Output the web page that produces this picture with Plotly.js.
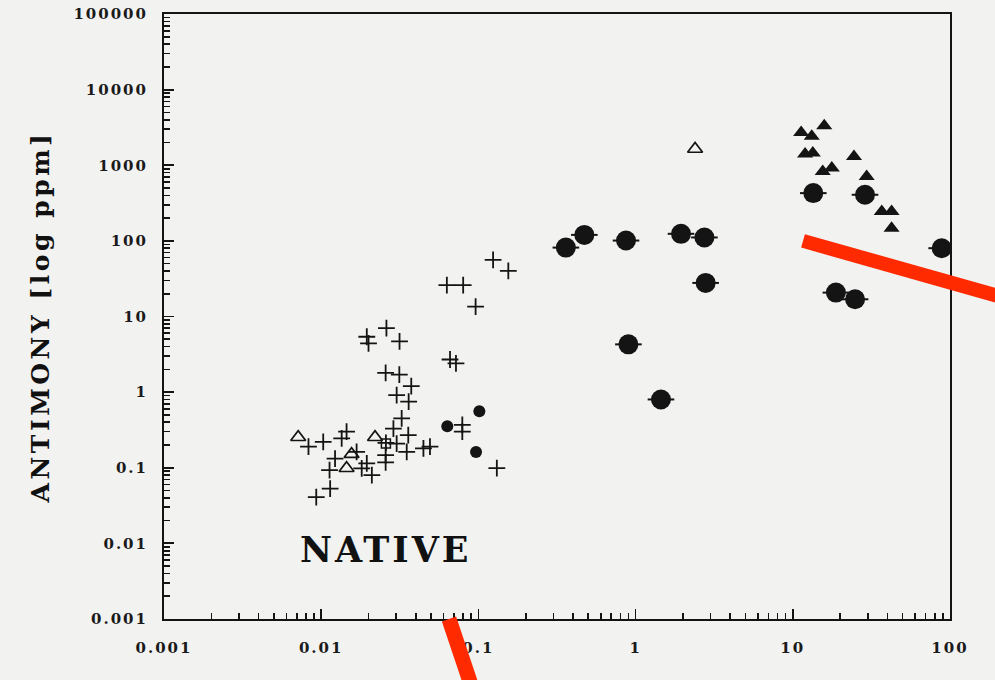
<!DOCTYPE html>
<html>
<head>
<meta charset="utf-8">
<script src="https://cdn.plot.ly/plotly-3.0.1.min.js"></script>
<style>
  html, body { margin: 0; padding: 0; background: #f2f2f1; }
  #chart { width: 995px; height: 680px; }
  .xtick text, .ytick text { letter-spacing: 2px; }
  .g-ytitle text { letter-spacing: 3.5px; }
  .annotation-text { letter-spacing: 3px; }
</style>
</head>
<body>
<div id="chart"></div>
<script>
// ---- data ----
const xTickVals = [0.001, 0.01, 0.1, 1, 10, 100];
const xTickText = ["0.001", "0.01", "0.1", "1", "10", "100"];
const yTickVals = [0.001, 0.01, 0.1, 1, 10, 100, 1000, 10000, 100000];
const yTickText = ["0.001", "0.01", "0.1", "1", "10", "100", "1000", "10000", "100000"];

// crosses (+)
const crossX = [0.124, 0.155, 0.063, 0.080, 0.096, 0.026, 0.0195, 0.020, 0.0315, 0.066, 0.072,
  0.0257, 0.0314, 0.0374, 0.0302, 0.036, 0.0325, 0.0288, 0.0358, 0.079, 0.079, 0.131,
  0.0447, 0.0492, 0.0083, 0.0103, 0.0135, 0.0145, 0.01225, 0.0113, 0.0093, 0.0114,
  0.0168, 0.0195, 0.0181, 0.021, 0.0258, 0.0257, 0.0257, 0.0302, 0.035];
const crossY = [56, 40, 26, 26, 13.5, 7.0, 5.4, 4.4, 4.7, 2.7, 2.4,
  1.8, 1.7, 1.2, 0.91, 0.75, 0.45, 0.33, 0.27, 0.37, 0.30, 0.099,
  0.18, 0.19, 0.19, 0.22, 0.244, 0.30, 0.132, 0.093, 0.041, 0.053,
  0.162, 0.114, 0.098, 0.080, 0.213, 0.147, 0.118, 0.209, 0.162];

// open triangles
const openTriX = [0.00714, 0.022, 0.0156, 0.0145, 2.39];
const openTriY = [0.253, 0.253, 0.151, 0.0985, 1640];

// open square
const openSqX = [0.0258];
const openSqY = [0.21];

// small filled circles
const smallDotX = [0.1014, 0.0634, 0.0966];
const smallDotY = [0.56, 0.355, 0.162];

// large filled circles
const bigDotX = [0.36, 0.472, 0.869, 1.945, 2.74, 2.79, 0.90, 1.45, 13.5, 28.8, 18.8, 24.9, 88.5];
const bigDotY = [81.5, 120, 101, 124, 111, 27.8, 4.28, 0.80, 428, 407, 20.7, 16.9, 80];

// filled triangles
const fillTriX = [11.3, 13.2, 15.85, 11.97, 13.4, 15.5, 17.7, 24.5, 29.5, 36.8, 42.5, 42.5];
const fillTriY = [2720, 2410, 3340, 1407, 1450, 828, 918, 1308, 711, 244, 244, 147];

// minor tick positions (2..9 within each decade of the axis range)
function minorTicks(lo, hi) {
  const out = [];
  for (let e = lo; e < hi; e++) {
    for (let m = 2; m <= 9; m++) out.push(m * Math.pow(10, e));
  }
  return out;
}

const ink = '#141414';
const bg = '#f2f2f1';

const traces = [
  { x: crossX, y: crossY, type: 'scatter', mode: 'markers', name: 'cross',
    marker: { symbol: 'cross-thin-open', size: 12, color: ink, line: { color: ink, width: 1.8 } } },
  { x: openTriX, y: openTriY, type: 'scatter', mode: 'markers', name: 'open triangle',
    marker: { symbol: 'triangle-up-open', size: 13, color: ink, line: { color: ink, width: 1.7 } } },
  { x: openSqX, y: openSqY, type: 'scatter', mode: 'markers', name: 'open square',
    marker: { symbol: 'square-open', size: 9, color: ink, line: { color: ink, width: 1.5 } } },
  { x: smallDotX, y: smallDotY, type: 'scatter', mode: 'markers', name: 'small dot',
    marker: { symbol: 'circle', size: 12, color: ink } },
  { x: bigDotX, y: bigDotY, type: 'scatter', mode: 'markers', name: 'big dot bar',
    marker: { symbol: 'line-ew-open', size: 19, color: ink, line: { color: ink, width: 2 } } },
  { x: bigDotX, y: bigDotY, type: 'scatter', mode: 'markers', name: 'big dot',
    marker: { symbol: 'circle', size: 20, color: ink } },
  { x: fillTriX, y: fillTriY, type: 'scatter', mode: 'markers', name: 'filled triangle',
    marker: { symbol: 'triangle-up', size: 14, color: ink } }
];

const tickFont = { family: 'DejaVu Serif', size: 15, color: '#1a1a1a', weight: 700 };

const layout = {
  width: 995, height: 680,
  margin: { l: 164, r: 45, t: 14, b: 61 },
  paper_bgcolor: bg, plot_bgcolor: bg,
  showlegend: false,
  xaxis: {
    type: 'log', range: [-3, 2], autorange: false, layer: 'above traces',
    tickmode: 'array', tickvals: xTickVals, ticktext: xTickText,
    ticks: 'inside', ticklen: 10, tickwidth: 1.8, tickcolor: ink,
    minor: { tickmode: 'array', tickvals: minorTicks(-3, 2), ticks: 'inside', ticklen: 6,
      tickwidth: 1.6, tickcolor: ink, showgrid: false },
    showgrid: false, zeroline: false,
    showline: true, linecolor: ink, linewidth: 2, mirror: true,
    tickfont: tickFont, ticklabelstandoff: 14
  },
  yaxis: {
    type: 'log', range: [-3, 5], autorange: false, layer: 'above traces',
    tickmode: 'array', tickvals: yTickVals, ticktext: yTickText,
    ticks: 'inside', ticklen: 10, tickwidth: 1.8, tickcolor: ink,
    minor: { tickmode: 'array', tickvals: minorTicks(-3, 5), ticks: 'inside', ticklen: 6,
      tickwidth: 1.6, tickcolor: ink, showgrid: false },
    showgrid: false, zeroline: false,
    showline: true, linecolor: ink, linewidth: 2, mirror: true,
    tickfont: tickFont, ticklabelstandoff: 11,
    title: { text: 'ANTIMONY [log ppm]', standoff: 17,
      font: { family: 'DejaVu Serif', size: 25, color: '#111111', weight: 600 } }
  },
  annotations: [
    { text: 'NATIVE', xref: 'paper', yref: 'paper', x: 0.171, y: 0.115,
      xanchor: 'left', yanchor: 'middle', showarrow: false,
      font: { family: 'DejaVu Serif', size: 35, color: '#111111', weight: 700 } }
  ],
  shapes: [
    { type: 'line', xref: 'paper', yref: 'paper', x0: 0.813, y0: 0.625, x1: 1.08, y1: 0.527,
      line: { color: '#ff2a00', width: 14 } },
    { type: 'line', xref: 'paper', yref: 'paper', x0: 0.3626, y0: 0.0, x1: 0.3935, y1: -0.12,
      line: { color: '#ff2a00', width: 15 } }
  ]
};

Plotly.newPlot('chart', traces, layout, { staticPlot: true, displayModeBar: false });
</script>
</body>
</html>
